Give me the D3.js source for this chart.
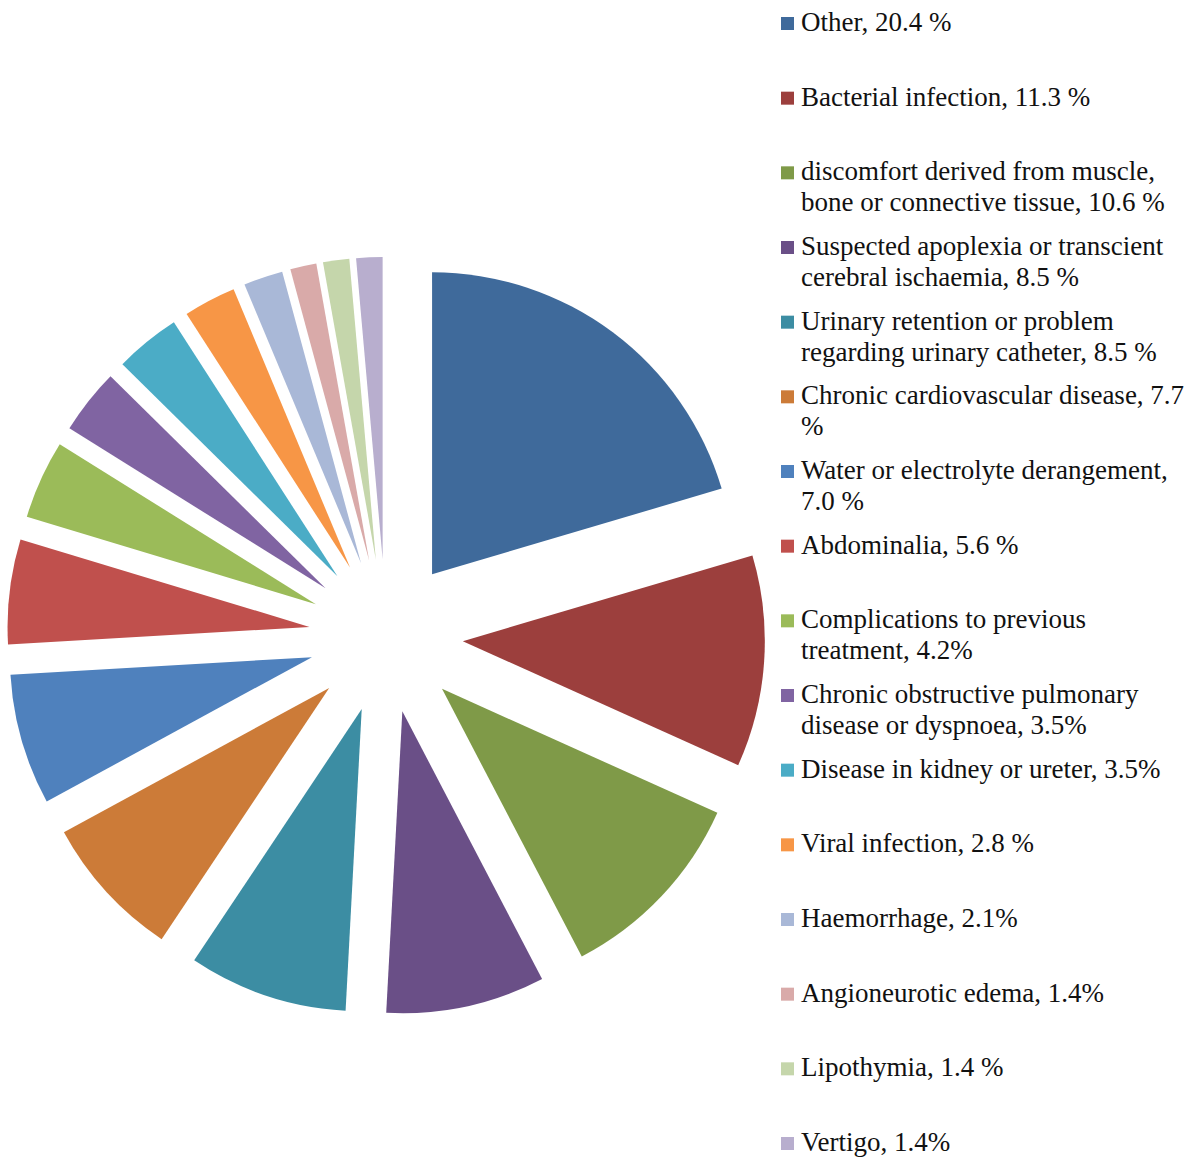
<!DOCTYPE html>
<html>
<head>
	<meta charset="utf-8">
	<title>Causes of admission</title>
	<script src="https://d3js.org/d3.v7.min.js"></script>
	<style>
		body { margin: 0; background: #fff; }
		text {
			font-family: "Liberation Serif", "Times New Roman", serif;
			font-size: 27px;
			fill: #111;
		}
	</style>
</head>
<body>
	<div id="chart"></div>

	<script>
		// categories (line breaks as in the legend)
		var categories = [
			"Other, 20.4 %",
			"Bacterial infection, 11.3 %",
			"discomfort derived from muscle,\nbone or connective tissue, 10.6 %",
			"Suspected apoplexia or transcient\ncerebral ischaemia, 8.5 %",
			"Urinary retention or problem\nregarding urinary catheter, 8.5 %",
			"Chronic cardiovascular disease, 7.7\n%",
			"Water or electrolyte derangement,\n7.0 %",
			"Abdominalia, 5.6 %",
			"Complications to previous\ntreatment, 4.2%",
			"Chronic obstructive pulmonary\ndisease or dyspnoea, 3.5%",
			"Disease in kidney or ureter, 3.5%",
			"Viral infection, 2.8 %",
			"Haemorrhage, 2.1%",
			"Angioneurotic edema, 1.4%",
			"Lipothymia, 1.4 %",
			"Vertigo, 1.4%"
		];

		var values = [20.4, 11.3, 10.6, 8.5, 8.5, 7.7, 7.0, 5.6, 4.2, 3.5, 3.5, 2.8, 2.1, 1.4, 1.4, 1.4];

		var colors = ["#3f6a9b", "#9c3f3d", "#7f9a48", "#6a4f87", "#3c8da3", "#cc7b38",
			"#4f81bd", "#c0504d", "#9bbb59", "#8064a2", "#4bacc6", "#f79646",
			"#a9b8d7", "#d9aaa9", "#c5d6ab", "#b8aece"];

		var width = 1200, height = 1163;
		var cx = 386, cy = 636, radius = 302, explode = 77;

		var data = categories.map(function (c, i) {
			return { label: c, value: values[i], color: colors[i] };
		});

		var svg = d3.select("#chart").append("svg")
			.attr("width", width)
			.attr("height", height);

		var pie = d3.pie()
			.sort(null)
			.value(function (d) { return d.value; });

		var arc = d3.arc()
			.innerRadius(0)
			.outerRadius(radius);

		var g = svg.append("g")
			.attr("transform", "translate(" + cx + "," + cy + ")");

		// exploded slices, each pushed out along its middle angle
		g.selectAll("path")
			.data(pie(data))
			.enter()
			.append("path")
			.attr("d", arc)
			.attr("fill", function (d) { return d.data.color; })
			.attr("transform", function (d) {
				var a = (d.startAngle + d.endAngle) / 2;
				return "translate(" + (Math.sin(a) * explode) + "," + (-Math.cos(a) * explode) + ")";
			});

		// legend
		var legendY = d3.scaleLinear()
			.domain([0, categories.length - 1])
			.range([31, 1151]);

		var items = svg.selectAll(".legend")
			.data(data)
			.enter()
			.append("g")
			.attr("class", "legend")
			.attr("transform", function (d, i) {
				return "translate(781," + legendY(i) + ")";
			});

		items.append("rect")
			.attr("x", 0)
			.attr("y", -14)
			.attr("width", 13)
			.attr("height", 13)
			.attr("fill", function (d) { return d.color; });

		items.append("text")
			.attr("x", 20)
			.attr("y", 0)
			.each(function (d) {
				var lines = d.label.split("\n");
				var t = d3.select(this);
				lines.forEach(function (line, k) {
					t.append("tspan")
						.attr("x", 20)
						.attr("dy", k === 0 ? 0 : 31)
						.text(line);
				});
			});
	</script>
</body>
</html>
